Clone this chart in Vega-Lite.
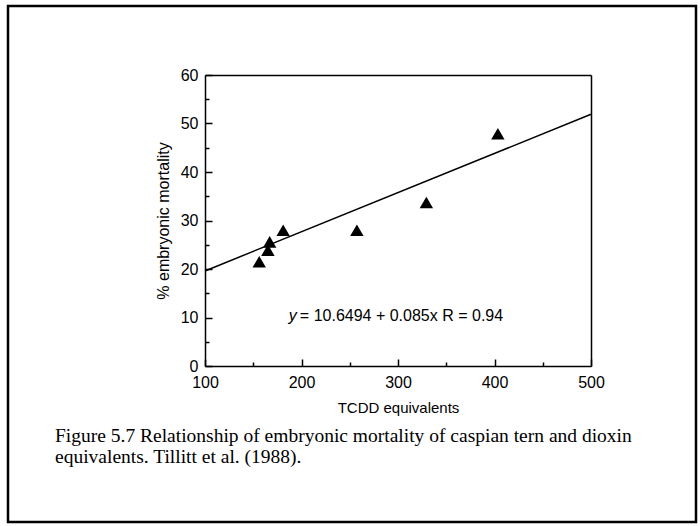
{
  "$schema": "https://vega.github.io/schema/vega-lite/v6.json",
  "width": 688,
  "height": 516,
  "autosize": {"type": "none"},
  "padding": {"left": 8, "top": 6, "right": 4, "bottom": 4},
  "background": "white",
  "datasets": {
    "points": [
      {"tcdd": 156.2, "mortality": 21.5},
      {"tcdd": 165.2, "mortality": 23.9},
      {"tcdd": 167.0, "mortality": 25.6},
      {"tcdd": 181.0, "mortality": 28.0},
      {"tcdd": 257.4, "mortality": 28.0},
      {"tcdd": 329.4, "mortality": 33.7},
      {"tcdd": 403.5, "mortality": 47.9}
    ],
    "fit": [
      {"tcdd": 100, "mortality": 19.6},
      {"tcdd": 500, "mortality": 51.9}
    ],
    "eq": [
      {"tcdd": 198.3, "mortality": 10.3, "label": "= 10.6494 + 0.085x R = 0.94"}
    ],
    "eqy": [
      {"tcdd": 186.8, "mortality": 10.3, "label": "y"}
    ]
  },
  "title": {
    "text": ["Figure 5.7 Relationship of embryonic mortality of caspian tern and dioxin", "equivalents. Tillitt et al. (1988)."],
    "orient": "bottom",
    "anchor": "start",
    "frame": "group",
    "offset": -95,
    "dx": 47,
    "font": "Liberation Serif",
    "fontSize": 19.5,
    "fontWeight": "normal",
    "lineHeight": 21,
    "color": "black"
  },
  "resolve": {"axis": {"x": "independent", "y": "independent"}},
  "layer": [
    {
      "data": {"name": "points"},
      "mark": {"type": "point", "shape": "triangle-up", "filled": true, "color": "black", "size": 180, "opacity": 1},
      "encoding": {
        "x": {
          "field": "tcdd", "type": "quantitative",
          "scale": {"domain": [100, 500], "range": [197, 583], "nice": false, "zero": false},
          "axis": {"orient": "bottom", "offset": -156, "values": [100, 200, 300, 400, 500], "tickSize": -7, "labelPadding": 15, "labelFlush": false, "labelOverlap": false, "title": "TCDD equivalents", "titleFontSize": 15, "titlePadding": 10, "labelFontSize": 16}
        },
        "y": {
          "field": "mortality", "type": "quantitative",
          "scale": {"domain": [0, 60], "range": [360, 69], "nice": false, "zero": false},
          "axis": {"orient": "left", "offset": -197, "values": [0, 10, 20, 30, 40, 50, 60], "tickSize": -7, "labelPadding": 14, "labelFlush": false, "labelOverlap": false, "title": "% embryonic mortality", "titleFontSize": 16, "titlePadding": 9, "labelFontSize": 16}
        }
      }
    },
    {
      "data": {"name": "fit"},
      "mark": {"type": "line", "color": "black", "strokeWidth": 1.5},
      "encoding": {
        "x": {
          "field": "tcdd", "type": "quantitative",
          "scale": {"domain": [100, 500], "range": [197, 583], "nice": false, "zero": false},
          "axis": {"orient": "top", "offset": -69, "ticks": false, "labels": false, "title": null}
        },
        "y": {
          "field": "mortality", "type": "quantitative",
          "scale": {"domain": [0, 60], "range": [360, 69], "nice": false, "zero": false},
          "axis": {"orient": "right", "offset": -105, "ticks": false, "labels": false, "title": null}
        }
      }
    },
    {
      "data": {"name": "eq"},
      "mark": {"type": "text", "align": "left", "baseline": "middle", "font": "Liberation Sans", "fontSize": 16, "color": "black"},
      "encoding": {
        "x": {
          "field": "tcdd", "type": "quantitative",
          "scale": {"domain": [100, 500], "range": [197, 583], "nice": false, "zero": false},
          "axis": {"orient": "bottom", "offset": -156, "values": [150, 250, 350, 450], "tickSize": -4, "labels": false, "domain": false, "title": null}
        },
        "y": {
          "field": "mortality", "type": "quantitative",
          "scale": {"domain": [0, 60], "range": [360, 69], "nice": false, "zero": false},
          "axis": {"orient": "left", "offset": -197, "values": [5, 15, 25, 35, 45, 55], "tickSize": -4, "labels": false, "domain": false, "title": null}
        },
        "text": {"field": "label"}
      }
    },
    {
      "data": {"name": "eqy"},
      "mark": {"type": "text", "align": "left", "baseline": "middle", "font": "Liberation Sans", "fontSize": 16, "fontStyle": "italic", "color": "black"},
      "encoding": {
        "x": {"field": "tcdd", "type": "quantitative", "scale": {"domain": [100, 500], "range": [197, 583], "nice": false, "zero": false}, "axis": null},
        "y": {"field": "mortality", "type": "quantitative", "scale": {"domain": [0, 60], "range": [360, 69], "nice": false, "zero": false}, "axis": null},
        "text": {"field": "label"}
      }
    }
  ],
  "config": {
    "view": {"stroke": "black", "strokeWidth": 2.5},
    "axis": {
      "grid": false,
      "domainColor": "black",
      "domainWidth": 1.5,
      "tickColor": "black",
      "tickWidth": 1.5,
      "labelColor": "black",
      "titleColor": "black",
      "labelFont": "Liberation Sans",
      "titleFont": "Liberation Sans",
      "titleFontWeight": "normal"
    }
  }
}
